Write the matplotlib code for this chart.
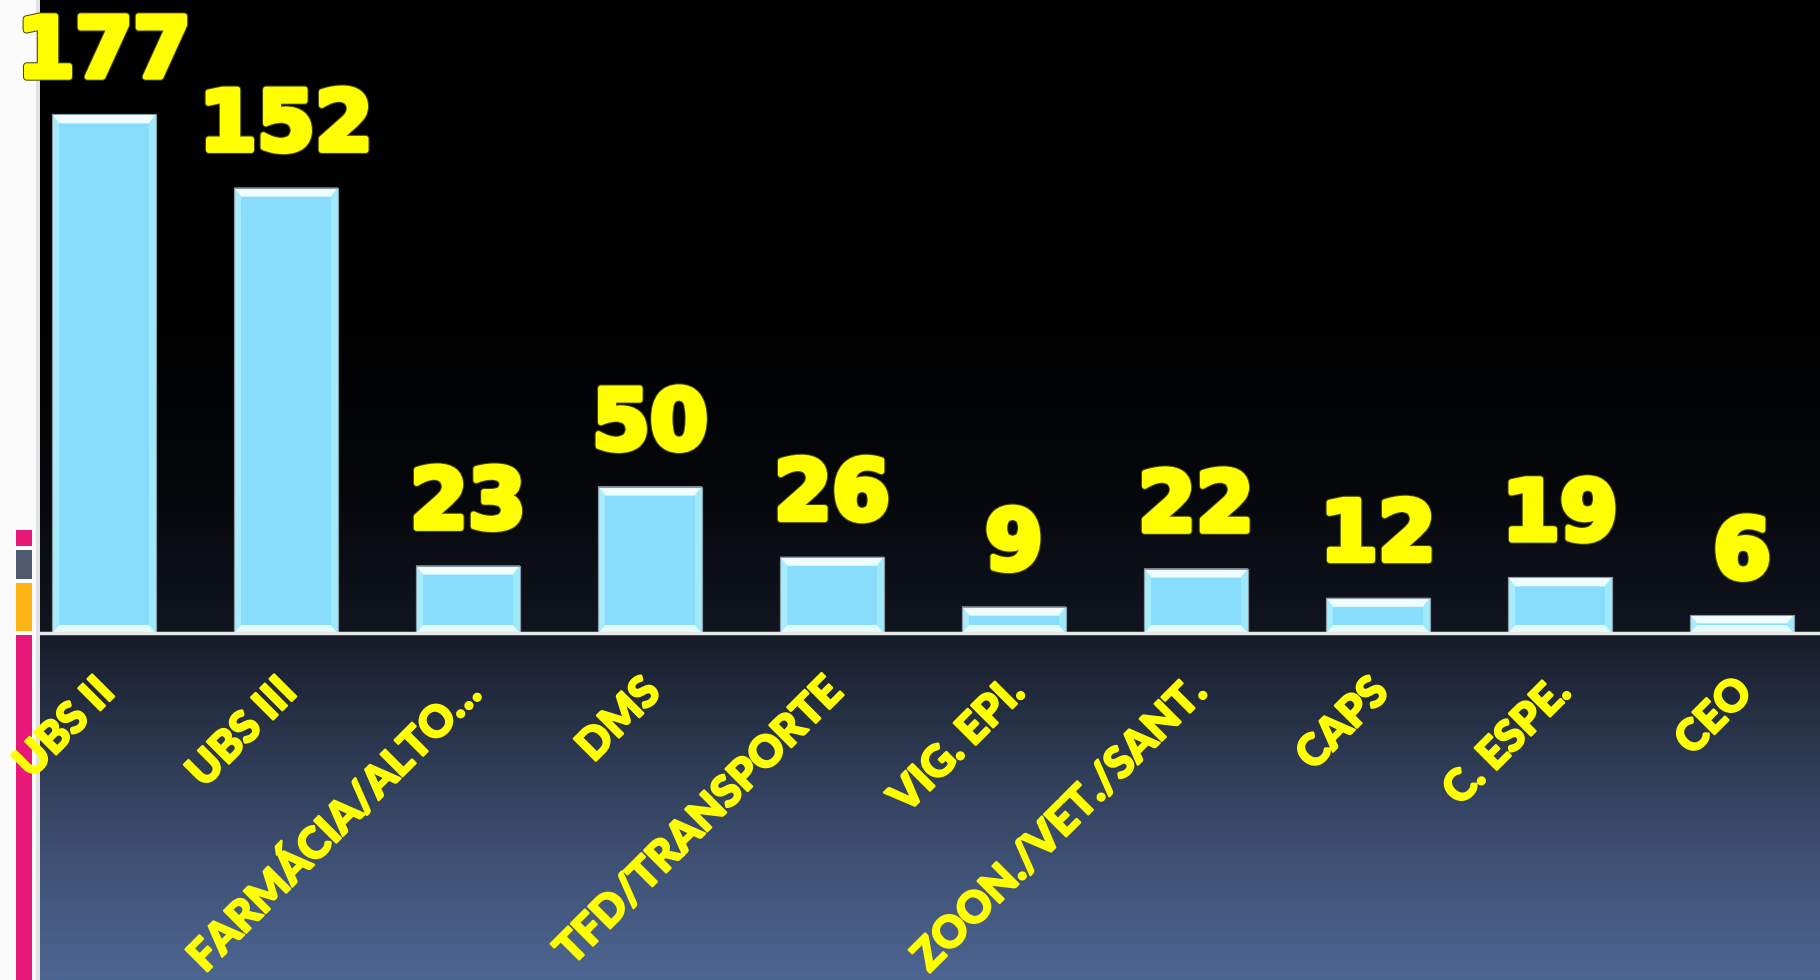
import numpy as np
import matplotlib
matplotlib.use("Agg")
import matplotlib.pyplot as plt
from matplotlib.patches import Rectangle, Polygon
from matplotlib.colors import LinearSegmentedColormap
import matplotlib.patheffects as pe
import matplotlib.transforms as mtransforms

categories = ["UBS II", "UBS III", "FARMÁCIA/ALTO…", "DMS", "TFD/TRANSPORTE",
              "VIG. EPI.", "ZOON./VET./SANT.", "CAPS", "C. ESPE.", "CEO"]
values = [177, 152, 23, 50, 26, 9, 22, 12, 19, 6]

W, H, DPI = 1820, 980, 100
fig = plt.figure(figsize=(W / DPI, H / DPI), dpi=DPI)
fig.patch.set_facecolor("#fbfbfb")

left_px = 40
base_px = 633
ax_left = left_px / W
ax_bottom = (H - base_px) / H

# left decorative strip (drawn beneath the axes so labels overlap it)
fig.add_artist(Rectangle((36 / W, 0), 4 / W, 1, transform=fig.transFigure,
                         facecolor="#e2e2e2", edgecolor="none", zorder=0.2))
for (ytop, ybot, col) in [(530, 546, "#e8177a"), (550, 579, "#4f5b6e"),
                          (583, 631, "#fdb515"), (635, 980, "#e8177a")]:
    fig.add_artist(Rectangle((16 / W, 1 - ybot / H), 16 / W, (ybot - ytop) / H,
                             transform=fig.transFigure, facecolor=col,
                             edgecolor="none", zorder=0.2))

# lower gradient panel (below axis)
lower = fig.add_axes([ax_left, 0, 1 - ax_left, ax_bottom], zorder=0.5)
lower_cmap = LinearSegmentedColormap.from_list("low", ["#161b27", "#2c3850", "#3f5175", "#4d6692"])
grad = np.linspace(0, 1, 256).reshape(-1, 1)
lower.imshow(grad, aspect="auto", cmap=lower_cmap, extent=[0, 1, 0, 1], origin="upper")
lower.set_axis_off()

# main axes
ax = fig.add_axes([ax_left, ax_bottom, 1 - ax_left, 1 - ax_bottom], zorder=1)
ax.patch.set_alpha(0)
upper_cmap = LinearSegmentedColormap.from_list("up", ["#000000", "#000000", "#05070a", "#111520"])
ugrad = np.linspace(0, 1, 256).reshape(-1, 1) ** 1.5
ax.imshow(ugrad, aspect="auto", cmap=upper_cmap, extent=[0, 1, 0, 1], origin="upper",
          transform=ax.transAxes, zorder=0)

x = np.arange(len(categories))
ymax = base_px / 2.93
ax.set_xlim(-64 / 182, 9 + 78 / 182)
ax.set_ylim(0, ymax)

bw = 104 / 182
bars = ax.bar(x, values, width=bw, color="#87ddfb", edgecolor="#9aa9b0", linewidth=0.8, zorder=3)

# bevel effect derived from each bar's geometry
px_x = (ax.get_xlim()[1] - ax.get_xlim()[0]) / (W - left_px)
px_y = ymax / base_px
for b in bars:
    x0, y0, w, h = b.get_x(), b.get_y(), b.get_width(), b.get_height()
    x1, y1 = x0 + w, y0 + h
    sx, tb, bb = 7 * px_x, min(9 * px_y, h / 2.2), min(8 * px_y, h / 2.2)
    top = Polygon([(x0, y1), (x1, y1), (x1 - sx, y1 - tb), (x0 + sx, y1 - tb)],
                  closed=True, facecolor="#effdff", edgecolor="none", zorder=4)
    bot = Polygon([(x0, y0), (x1, y0), (x1 - sx, y0 + bb), (x0 + sx, y0 + bb)],
                  closed=True, facecolor="#e4fbff", edgecolor="none", zorder=4)
    lft = Polygon([(x0, y0), (x0 + sx, y0 + bb), (x0 + sx, y1 - tb), (x0, y1)],
                  closed=True, facecolor="#a6ecfe", edgecolor="none", zorder=4)
    rgt = Polygon([(x1, y0), (x1 - sx, y0 + bb), (x1 - sx, y1 - tb), (x1, y1)],
                  closed=True, facecolor="#9fe9fd", edgecolor="none", zorder=4)
    for p in (top, bot, lft, rgt):
        ax.add_patch(p)
    ax.add_patch(Rectangle((x0, y0), w, h, facecolor="none", edgecolor="#8a9aa2",
                           linewidth=0.8, zorder=5))

# value labels
for xi, v in zip(x, values):
    t = ax.annotate(str(v), (xi, v), xytext=(0, 27), textcoords="offset points",
                    ha="center", va="baseline", fontsize=60, fontweight="bold",
                    family="DejaVu Sans", color="#ffff00", zorder=6,
                    annotation_clip=False)
    t.set_path_effects([pe.Stroke(linewidth=5.5, foreground="#4a4a10"),
                        pe.Stroke(linewidth=4, foreground="#ffff00"),
                        pe.Normal()])
    t.set_clip_on(False)

# baseline
ax.axhline(0, color="#e8e8e8", linewidth=2.5, zorder=6, clip_on=False)

# category labels (rotated, right end under each bar)
lab_trans = mtransforms.blended_transform_factory(ax.transData, ax.transAxes) + \
    mtransforms.ScaledTranslation(-11 / DPI, -38 / DPI, fig.dpi_scale_trans)
for xi, lab in zip(x, categories):
    ax.text(xi, 0, lab, transform=lab_trans, rotation=45, ha="right", va="top",
            rotation_mode="anchor", fontsize=31, fontweight="black",
            family=["Lato", "DejaVu Sans"], color="#ffff00", clip_on=False, zorder=6,
            path_effects=[pe.withStroke(linewidth=1.6, foreground="#ffff00")])

ax.set_xticks([])
ax.set_yticks([])
for s in ax.spines.values():
    s.set_visible(False)

fig.savefig("out.png", dpi=DPI)
